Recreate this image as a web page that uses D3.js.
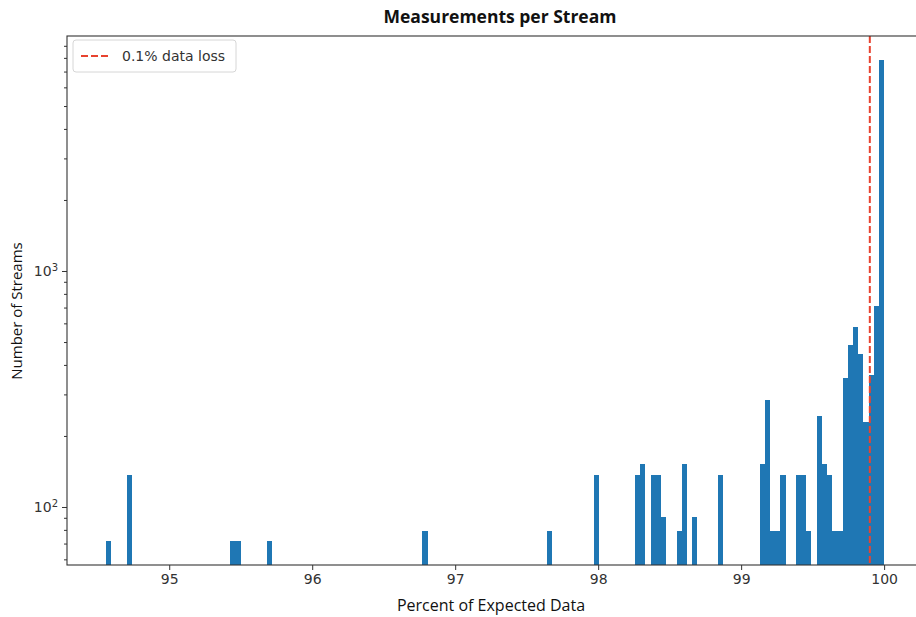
<!DOCTYPE html>
<html>
<head>
<meta charset="utf-8">
<script src="https://cdn.jsdelivr.net/npm/d3@7"></script>
<style>
  body { margin: 0; background: #fff; }
  svg { display: block; }
  .tick text { font-family: "DejaVu Sans", sans-serif; font-size: 14px; fill: #333; }
  .tick line { stroke: #333; }
  .domain { display: none; }
</style>
</head>
<body>
<div id="chart"></div>
<script>
// histogram layout (150 bins between min and max of the data)
var binMin = 94.557,
    binMax = 100.0,
    binCount = 150;

// non-empty bins
var binIndex = [0, 4, 24, 25, 31, 61, 85, 94, 102, 103, 105, 106, 107, 110, 111, 113, 118,
                126, 127, 128, 129, 130, 133, 134, 135, 137, 138, 139, 140, 141, 142, 143,
                144, 145, 146, 147, 148, 149];
var binCounts = [72, 136, 72, 72, 72, 79, 79, 136, 136, 152, 136, 136, 91, 79, 152, 91, 136,
                 152, 284, 79, 79, 136, 136, 136, 79, 243, 152, 136, 79, 79, 351, 485,
                 581, 443, 230, 362, 711, 7830];

var xTicks = [95, 96, 97, 98, 99, 100];
var yMajorTicks = [100, 1000];
var yMinorTicks = [60, 70, 80, 90, 200, 300, 400, 500, 600, 700, 800, 900,
                   2000, 3000, 4000, 5000, 6000, 7000, 8000, 9000];
var lossLine = 99.9;
var legendLabel = "0.1% data loss";

var svg_width = 916, svg_height = 617;
var plotLeft = 67, plotRight = 923, plotTop = 36, plotBottom = 565;

var svg = d3.select("#chart").append("svg")
	.attr("width", svg_width)
	.attr("height", svg_height);

var xScale = d3.scaleLinear().domain([94.285, 100.272]).range([plotLeft, plotRight]);
var yScale = d3.scaleLog().domain([56.78, 9903]).range([plotBottom, plotTop]);

var binWidth = (binMax - binMin) / binCount;
var bars = binIndex.map(function(b, i) {
	return { x0: binMin + b * binWidth, x1: binMin + (b + 1) * binWidth, count: binCounts[i] };
});

// bars
svg.append("g").selectAll("rect")
	.data(bars)
	.enter()
	.append("rect")
	.attr("x", function(d) { return xScale(d.x0); })
	.attr("width", function(d) { return xScale(d.x1) - xScale(d.x0); })
	.attr("y", function(d) { return yScale(d.count); })
	.attr("height", function(d) { return plotBottom - yScale(d.count); })
	.attr("fill", "#1f77b4")
	.attr("shape-rendering", "crispEdges");

// 0.1% data loss line
svg.append("line")
	.attr("x1", xScale(lossLine)).attr("x2", xScale(lossLine))
	.attr("y1", plotTop).attr("y2", plotBottom)
	.attr("stroke", "#e8432f")
	.attr("stroke-width", 2)
	.attr("stroke-dasharray", "7,3");

// x axis
var xAxis = d3.axisBottom(xScale).tickValues(xTicks).tickSize(5).tickPadding(4)
	.tickFormat(d3.format("d"));
svg.append("g")
	.attr("transform", "translate(0," + plotBottom + ")")
	.call(xAxis);

// y axis, major + minor ticks
var yAxis = d3.axisLeft(yScale).tickValues(yMajorTicks).tickSize(5).tickPadding(4)
	.tickFormat(function(d) { return ""; });
var yg = svg.append("g")
	.attr("transform", "translate(" + plotLeft + ",0)")
	.call(yAxis);
yg.selectAll(".tick text").each(function(d) {
	var t = d3.select(this);
	t.append("tspan").text("10");
	t.append("tspan").attr("dy", "-0.45em").style("font-size", "10px").text(Math.round(Math.log10(d)));
});
svg.append("g")
	.attr("transform", "translate(" + plotLeft + ",0)")
	.call(d3.axisLeft(yScale).tickValues(yMinorTicks).tickSize(3).tickFormat(""));

// frame
svg.append("rect")
	.attr("x", plotLeft).attr("y", plotTop)
	.attr("width", plotRight - plotLeft).attr("height", plotBottom - plotTop)
	.attr("fill", "none")
	.attr("stroke", "#333")
	.attr("stroke-width", 1.1);

// legend
var legend = svg.append("g").attr("transform", "translate(73,40)");
legend.append("rect")
	.attr("width", 163).attr("height", 32)
	.attr("rx", 3)
	.attr("fill", "#fff")
	.attr("fill-opacity", 0.8)
	.attr("stroke", "#d6d6d6");
legend.append("line")
	.attr("x1", 8).attr("x2", 36)
	.attr("y1", 16).attr("y2", 16)
	.attr("stroke", "#e8432f")
	.attr("stroke-width", 2)
	.attr("stroke-dasharray", "7,3");
legend.append("text")
	.attr("x", 49).attr("y", 21)
	.style("font-family", "DejaVu Sans, sans-serif")
	.style("font-size", "14px")
	.attr("fill", "#333")
	.text(legendLabel);

// title and axis labels
svg.append("text")
	.attr("x", 500).attr("y", 23)
	.attr("text-anchor", "middle")
	.style("font-family", "Open Sans, sans-serif")
	.style("font-size", "17.5px")
	.style("font-weight", "bold")
	.attr("fill", "#111")
	.text("Measurements per Stream");

svg.append("text")
	.attr("x", 491).attr("y", 611)
	.attr("text-anchor", "middle")
	.style("font-family", "Open Sans, sans-serif")
	.style("font-size", "16px")
	.attr("fill", "#111")
	.text("Percent of Expected Data");

svg.append("text")
	.attr("transform", "translate(22,311) rotate(-90)")
	.attr("text-anchor", "middle")
	.style("font-family", "Open Sans, sans-serif")
	.style("font-size", "15px")
	.attr("fill", "#111")
	.text("Number of Streams");
</script>
</body>
</html>
